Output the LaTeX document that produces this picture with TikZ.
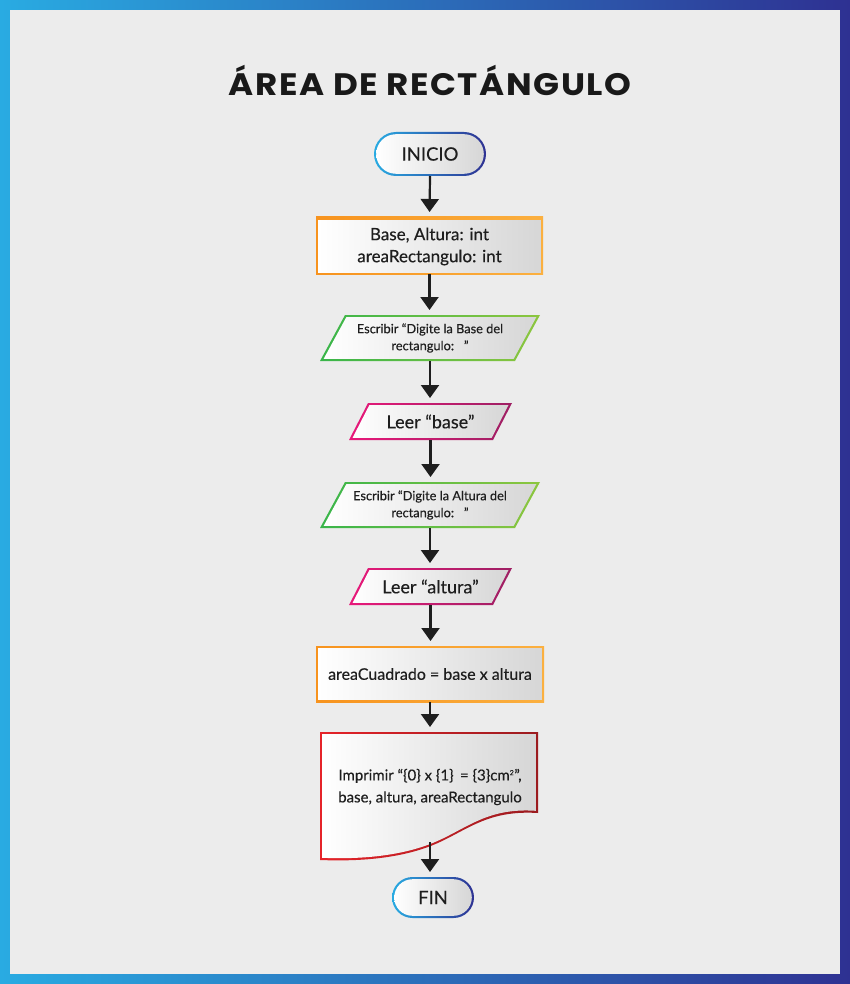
\documentclass[tikz,border=0pt]{standalone}
\usepackage{fontspec}
\setmainfont{Lato}[FakeBold=0.35]
\newfontfamily\titlefont{Poppins}[LetterSpace=5,FakeStretch=1.1]
\usetikzlibrary{shapes.misc,arrows.meta}
\definecolor{bl1}{HTML}{29ABE2}
\definecolor{bl2}{HTML}{2E3192}
\definecolor{paper}{HTML}{ECECEC}
\definecolor{or1}{HTML}{F7931E}
\definecolor{or2}{HTML}{FBB040}
\definecolor{gr1}{HTML}{39B54A}
\definecolor{gr2}{HTML}{8DC63F}
\definecolor{mg1}{HTML}{E8197A}
\definecolor{mg2}{HTML}{9E1F63}
\definecolor{rd1}{HTML}{E52329}
\definecolor{rd2}{HTML}{9B1B1F}
\definecolor{txt}{HTML}{1E1E1E}
\tikzset{
  basenode/.style={inner sep=0pt, outer sep=0pt, align=center, text=txt},
  fillsh/.style={left color=white, right color=black!16},
  bord/.style 2 args={left color=#1, right color=#2},
  term/.style={rounded rectangle, basenode},
  proc/.style={rectangle, basenode},
  arr/.style={line width=2.2pt, draw=txt, -{Triangle[width=18pt,length=13pt]}, shorten >=5pt},
  tbig/.style={font=\fontsize{18.5}{20}\selectfont},
  tmid/.style={font=\fontsize{17}{22}\selectfont},
  tsmall/.style={font=\fontsize{12.8}{17}\selectfont},
}
\begin{document}
\begin{tikzpicture}[x=1pt,y=-1pt]
% frame
\shade[left color=bl1, right color=bl2] (0,0) rectangle (850,984);
\fill[paper] (10,10) rectangle (840,974);
\useasboundingbox (0,0) rectangle (850,984);

\node[basenode, text=black!90, font=\fontsize{31}{36}\titlefont\bfseries] (title) at (430,80) {ÁREA DE RECTÁNGULO};

% INICIO
\node[term, bord={bl1}{bl2}, minimum width=112pt, minimum height=44pt] (inicio) at (430,154) {};
\node[term, fillsh, tbig, minimum width=107.6pt, minimum height=39.6pt] (inicioT) at (430,154) {INICIO};

% declarations
\node[proc, bord={or1}{or2}, minimum width=227pt, minimum height=57pt] (decl) at (429.5,245.5) {};
\node[proc, fillsh, tmid, minimum width=222.6pt, minimum height=52.6pt] (declT) at (429.5,246.5) {Base, Altura: int\\areaRectangulo: int};

% escribir 1
\shade[bord={gr1}{gr2}] (320,361) -- (515,361) -- (540,315) -- (345,315) -- cycle;
\shade[fillsh] (323.7,358.8) -- (513.7,358.8) -- (536.3,317.2) -- (346.3,317.2) -- cycle;
\node[proc, tsmall, minimum width=220pt, minimum height=46pt] (esc1) at (430,338) {Escribir “Digite la Base del\\rectangulo:~~~”};

% leer 1
\shade[bord={mg1}{mg2}] (349,440) -- (493,440) -- (512,403) -- (368,403) -- cycle;
\shade[fillsh] (352.6,437.8) -- (491.7,437.8) -- (508.4,405.2) -- (369.3,405.2) -- cycle;
\node[proc, font=\fontsize{18}{22}\selectfont, minimum width=163pt, minimum height=37pt] (leer1) at (430.5,421.5) {Leer “base”};

% escribir 2
\shade[bord={gr1}{gr2}] (320,528) -- (515,528) -- (540,482) -- (345,482) -- cycle;
\shade[fillsh] (323.7,525.8) -- (513.7,525.8) -- (536.3,484.2) -- (346.3,484.2) -- cycle;
\node[proc, tsmall, minimum width=220pt, minimum height=46pt] (esc2) at (430,505) {Escribir “Digite la Altura del\\rectangulo:~~~”};

% leer 2
\shade[bord={mg1}{mg2}] (349,605) -- (493,605) -- (512,568) -- (368,568) -- cycle;
\shade[fillsh] (352.6,602.8) -- (491.7,602.8) -- (508.4,570.2) -- (369.3,570.2) -- cycle;
\node[proc, font=\fontsize{18}{22}\selectfont, minimum width=163pt, minimum height=37pt] (leer2) at (430.5,586.5) {Leer “altura”};

% calculo
\node[proc, bord={or1}{or2}, minimum width=228pt, minimum height=56pt] (calc) at (430,674) {};
\node[proc, fillsh, font=\fontsize{16}{20}\selectfont, minimum width=223.6pt, minimum height=51.6pt] (calcT) at (430,674) {areaCuadrado = base x altura};

% documento
\shade[bord={rd1}{rd2}] (320,732) -- (538,732) -- (538,813)
  .. controls (490,810) and (470,828) .. (440,842)
  .. controls (410,856) and (370,862) .. (320,860) -- cycle;
\shade[fillsh] (322.2,734.2) -- (535.8,734.2) -- (535.8,810.8)
  .. controls (490,807.8) and (470,825.8) .. (440,839.8)
  .. controls (410,853.8) and (370,859.8) .. (322.2,857.8) -- cycle;
\node[proc, font=\fontsize{15}{22}\selectfont, minimum width=218pt, minimum height=110pt] (print) at (430,787) {Imprimir “\{0\} x \{1\}\, = \{3\}cm\textsuperscript{\scriptsize 2}”,\\base, altura, areaRectangulo};

% FIN
\node[term, bord={bl1}{bl2}, minimum width=82pt, minimum height=41pt] (fin) at (433,897.5) {};
\node[term, fillsh, tbig, minimum width=77.6pt, minimum height=36.6pt] (finT) at (433,897.5) {FIN};

% connectors
\draw[arr] (inicio.south) -- (decl.north);
\draw[arr] (decl.south) -- (decl.south |- esc1.north);
\draw[arr] (esc1.south) -- (esc1.south |- leer1.north);
\draw[arr] (leer1.south) -- (leer1.south |- esc2.north);
\draw[arr] (esc2.south) -- (esc2.south |- leer2.north);
\draw[arr] (leer2.south) -- (leer2.south |- calc.north);
\draw[arr] (calc.south) -- (calc.south |- print.north);
\draw[arr] (print.south) -- (print.south |- fin.north);
\end{tikzpicture}
\end{document}
